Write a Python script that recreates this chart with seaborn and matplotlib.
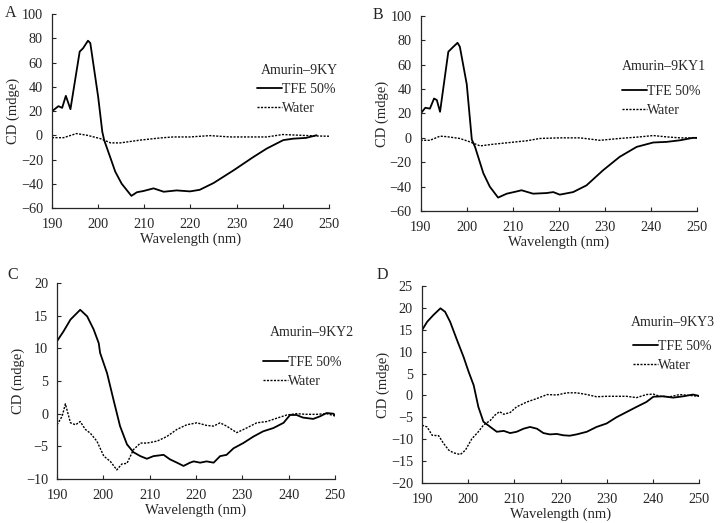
import matplotlib
matplotlib.use("Agg")
import matplotlib.pyplot as plt
import seaborn as sns

# -----------------------------------------------------------------------------
# DATOS (CD de los péptidos Amurin-9KY)
# -----------------------------------------------------------------------------

# Panel A: Amurin-9KY
wl_a_tfe = [190, 191.4, 192.2, 193, 194, 196, 196.7, 197.8, 198.3, 200, 200.9, 201.3,
            202.6, 203.7, 205.1, 207.2, 208.4, 209.8, 212, 214.2, 217, 219.9, 222,
            225, 229.3, 233.6, 236.5, 240.1, 242.3, 245, 247.3]
cd_a_tfe = [19.8, 24, 22.6, 32.5, 21.5, 69, 71.6, 78, 76, 31.7, 2.8, -4,
            -18, -30, -40, -50, -47, -46, -43.8, -46.6, -45.5, -46.3, -45,
            -39.4, -29, -18, -11, -4, -2.8, -2.2, 0]
wl_a_wat = [190, 192.5, 195.3, 197.6, 200.5, 202.7, 204.8, 209.1, 213.5, 216.3, 219.9,
            224.2, 228.6, 233.6, 236.5, 240, 243.7, 247.3, 250]
cd_a_wat = [-2, -2, 1.4, 0, -2.8, -6.3, -6.3, -4, -2.2, -1.4, -1.4,
            -0.3, -1.4, -1.4, -1.4, 0.6, 0, -0.6, -0.8]

# Panel B: Amurin-9KY1
wl_b_tfe = [190, 191, 192, 192.9, 193.5, 194.2, 196, 197.1, 198, 198.5, 200, 201.1,
            201.8, 203.6, 205, 206.8, 208.7, 210.8, 211.9, 214.4, 217.3, 218.8, 220.2,
            223.1, 226, 229.6, 233.2, 236.9, 240.5, 243.4, 246.3, 249.1, 250]
cd_b_tfe = [20, 24.7, 24, 32.3, 31, 21.4, 70.7, 74.8, 78, 74.8, 44, -1.4,
            -7.4, -29, -40, -49, -45.8, -44, -43, -45.8, -45.3, -44.5, -46.6,
            -44.5, -39, -26.6, -15.6, -7.4, -3.8, -3.3, -2, 0, 0]
wl_b_wat = [190, 192, 194.2, 195.6, 198.5, 200.7, 202.9, 205.8, 209.4, 213, 215.9,
            220.2, 224.6, 228.9, 233.2, 237.6, 240.5, 243.4, 246.3, 250]
cd_b_wat = [-2, -2, 1.4, 1, -0.5, -3.3, -6.6, -5.2, -3.8, -2.4, -0.5,
            0, 0, -2, -0.5, 0.8, 1.9, 0.8, 0, 0]

# Panel C: Amurin-9KY2
wl_c_tfe = [190, 191.4, 192.9, 194.3, 195, 196.5, 197.9, 199, 199.3, 200.8, 202.2,
            203.6, 205.1, 206.5, 208, 209.4, 210.8, 213, 214.4, 215.9, 217.3, 218.7,
            219.5, 220.9, 222.3, 223.8, 225.2, 226.6, 228.1, 230.2, 232.4, 234.5,
            236.7, 238.9, 240.3, 241.7, 243.1, 245.3, 246.8, 248.2, 249.6, 250.3]
cd_c_tfe = [11.1, 12.6, 14.4, 15.4, 15.9, 14.9, 12.9, 10.8, 9.3, 6.2, 2.1,
            -1.9, -4.7, -5.9, -6.5, -6.9, -6.5, -6.3, -7, -7.5, -8, -7.5,
            -7.3, -7.5, -7.3, -7.5, -6.5, -6.3, -5.3, -4.5, -3.5, -2.7,
            -2.2, -1.4, -0.2, -0.2, -0.6, -0.8, -0.4, 0.1, 0, -0.3]
wl_c_wat = [190, 191.1, 191.8, 192.9, 194, 195, 196.1, 197.2, 198.6, 200.1, 201.5,
            202.9, 204, 205.1, 206.5, 208, 209.4, 211.6, 213.7, 215.9, 218, 220.2,
            222.3, 223.8, 225.2, 226.6, 228.8, 230.9, 233.1, 235.3, 237.4, 239.6,
            241.7, 243.8, 246, 248.2, 250.3]
cd_c_wat = [-1.7, -0.4, 1.5, -1.4, -1.7, -1.2, -2.4, -3, -4.2, -6.5, -7.3,
            -8.6, -7.7, -7.6, -5.5, -4.5, -4.5, -4.2, -3.5, -2.4, -1.7, -1.4,
            -1.8, -1.9, -1.4, -1.9, -2.9, -2.2, -1.4, -1.2, -0.7, -0.2,
            0, -0.1, -0.1, 0, -0.4]

# Panel D: Amurin-9KY3
wl_d_tfe = [190, 191.1, 192.5, 194, 195, 196.1, 197.6, 199, 200.1, 201.2, 202.2,
            203.3, 204.8, 206.2, 207.7, 209.1, 210.5, 212, 213.4, 214.9, 216.3,
            217.7, 219.2, 220.6, 222, 223.5, 225.7, 227.8, 230, 232.1, 234.3,
            236.5, 238.6, 240.1, 242.2, 244.4, 246.6, 248.7, 250]
cd_d_tfe = [14.9, 16.8, 18.4, 19.9, 19.1, 16.8, 12.6, 8.8, 5.4, 2.3, -2.6,
            -6, -7.2, -8.3, -8.1, -8.6, -8.3, -7.6, -7.2, -7.6, -8.6,
            -8.9, -8.8, -9.1, -9.2, -8.9, -8.3, -7.2, -6.4, -5, -3.8,
            -2.6, -1.5, -0.3, -0.2, -0.5, -0.2, 0.2, -0.1]
wl_d_wat = [190, 191.1, 192.2, 193.6, 194.7, 195.8, 196.8, 198.3, 199.4, 200.8, 202.2,
            203.3, 204.8, 205.8, 206.8, 207.7, 209.1, 210.5, 212.7, 214.9, 217.1,
            219.2, 221.4, 223.5, 225.7, 227.8, 230, 232.1, 234.3, 236.5, 238.6,
            240.1, 241.5, 243.7, 245.8, 248, 250]
cd_d_wat = [-6.8, -7.2, -9.1, -9.2, -11, -12.5, -13.1, -13.5, -12.5, -9.9, -8.3,
            -6.8, -5.7, -4.5, -3.7, -4.3, -3.9, -2.6, -1.5, -0.7, 0.2,
            0.1, 0.6, 0.6, 0.2, -0.3, -0.2, -0.2, -0.2, -0.5, 0.2,
            0.3, -0.2, -0.3, 0.2, 0, -0.2]

panel_letters = ["A", "B", "C", "D"]
peptides = ["Amurin\u20139KY", "Amurin\u20139KY1", "Amurin\u20139KY2", "Amurin\u20139KY3"]
y_limits = [(-60, 100), (-60, 100), (-10, 20), (-20, 25)]
y_steps = [20, 20, 5, 5]
x_ticks = [190, 200, 210, 220, 230, 240, 250]

series = [
    (wl_a_tfe, cd_a_tfe, wl_a_wat, cd_a_wat),
    (wl_b_tfe, cd_b_tfe, wl_b_wat, cd_b_wat),
    (wl_c_tfe, cd_c_tfe, wl_c_wat, cd_c_wat),
    (wl_d_tfe, cd_d_tfe, wl_d_wat, cd_d_wat),
]

# -----------------------------------------------------------------------------
# FIGURA
# -----------------------------------------------------------------------------
sns.set_style("ticks")
plt.rcParams["font.family"] = ["Liberation Serif", "DejaVu Serif"]
plt.rcParams["font.size"] = 10

W, H = 721, 523
fig = plt.figure(figsize=(W / 100, H / 100), dpi=100)

# [left, bottom, width, height] en fracciones de la figura
axes_pos = [
    [0.0721, 0.6023, 0.3842, 0.3709],
    [0.5835, 0.5966, 0.3832, 0.3728],
    [0.0791, 0.0841, 0.3855, 0.3748],
    [0.5853, 0.0765, 0.3842, 0.3767],
]
# posiciones (px) de la letra del panel, el título de la leyenda y las filas
letter_px = [(11, 13), (378, 15), (13, 275), (382, 275)]
title_px = [(299, 70), (664, 67), (312, 333), (673, 323)]
legend_px = [(257, 99), (622, 101), (263, 372), (633, 356)]

for i, (wl_t, cd_t, wl_w, cd_w) in enumerate(series):
    ax = fig.add_axes(axes_pos[i])

    sns.lineplot(x=wl_t, y=cd_t, color="black", linewidth=1.3, label="TFE 50%", ax=ax)
    sns.lineplot(x=wl_w, y=cd_w, color="black", linewidth=1.0,
                 linestyle=(0, (1.5, 1.0)), label="Water", ax=ax)

    ymin, ymax = y_limits[i]
    ax.set_xlim(190, 250)
    ax.set_ylim(ymin, ymax)
    ax.set_xticks(x_ticks)
    ax.set_yticks(range(ymin, ymax + 1, y_steps[i]))
    ax.tick_params(direction="in", length=3, width=0.8, labelsize=10.3)
    ax.tick_params(axis="x", pad=7.5)
    ax.tick_params(axis="y", pad=6.5)
    sns.despine(ax=ax)
    for sp in ax.spines.values():
        sp.set_linewidth(0.9)

    ax.set_xlabel("Wavelength (nm)", fontsize=10.5, labelpad=1)
    ax.set_ylabel("CD (mdge)", fontsize=10.5, labelpad=0.5)

    lx, ly = legend_px[i]
    ax.legend(loc="center left", bbox_to_anchor=(lx / W, 1 - ly / H),
              bbox_transform=fig.transFigure, frameon=False, fontsize=10,
              handlelength=1.8, handletextpad=0.0, borderpad=0, borderaxespad=0,
              labelspacing=0.4)

    tx, ty = title_px[i]
    fig.text(tx / W, 1 - ty / H, peptides[i], fontsize=10, ha="center", va="center")

    px, py = letter_px[i]
    fig.text(px / W, 1 - py / H, panel_letters[i], fontsize=11.5, ha="center", va="center")

fig.savefig("out.png", dpi=100)
